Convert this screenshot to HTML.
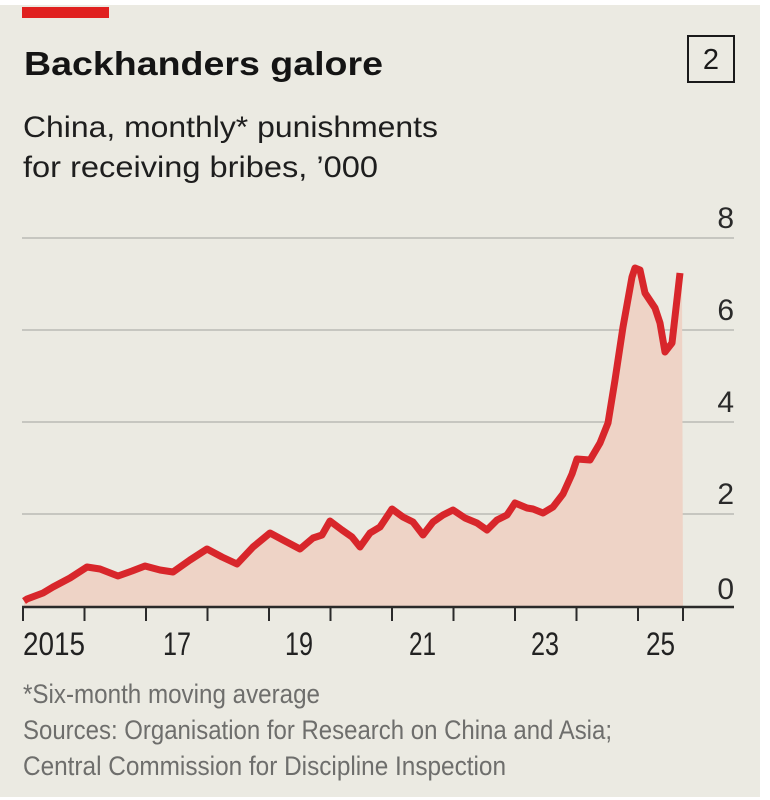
<!DOCTYPE html>
<html>
<head>
<meta charset="utf-8">
<style>
  html,body{margin:0;padding:0;background:#ffffff;}
  body{width:770px;height:800px;overflow:hidden;}
  svg{display:block;}
</style>
</head>
<body>
<svg width="770" height="800" viewBox="0 0 770 800" xmlns="http://www.w3.org/2000/svg">
  <rect x="0" y="0" width="770" height="800" fill="#ffffff"/>
  <rect x="0" y="5" width="760" height="792" fill="#ebeae2"/>
  <!-- red bar -->
  <rect x="22" y="7" width="87" height="11" fill="#e0201f"/>

  <!-- title -->
  <text x="24" y="75" font-family="Liberation Sans, Arial, sans-serif" font-weight="bold" font-size="33" fill="#141414" textLength="359" lengthAdjust="spacingAndGlyphs">Backhanders galore</text>

  <!-- box 2 -->
  <rect x="688" y="36" width="46" height="46" fill="none" stroke="#1a1a1a" stroke-width="2"/>
  <text x="711" y="69" text-anchor="middle" font-family="Liberation Sans, Arial, sans-serif" font-size="29" fill="#1a1a1a">2</text>

  <!-- subtitle -->
  <text x="23" y="137" font-family="Liberation Sans, Arial, sans-serif" font-size="30" fill="#1e1e1e" textLength="415" lengthAdjust="spacingAndGlyphs">China, monthly* punishments</text>
  <text x="23" y="177" font-family="Liberation Sans, Arial, sans-serif" font-size="30" fill="#1e1e1e" textLength="355" lengthAdjust="spacingAndGlyphs">for receiving bribes, ’000</text>

  <!-- gridlines -->
  <g stroke="#c6c6c0" stroke-width="2">
    <line x1="22" y1="238" x2="734" y2="238"/>
    <line x1="22" y1="330" x2="734" y2="330"/>
    <line x1="22" y1="422" x2="734" y2="422"/>
    <line x1="22" y1="514" x2="734" y2="514"/>
  </g>

  <!-- y labels -->
  <g font-family="Liberation Sans, Arial, sans-serif" font-size="30" fill="#2a2a2a" text-anchor="end">
    <text x="734" y="228">8</text>
    <text x="734" y="320">6</text>
    <text x="734" y="412">4</text>
    <text x="734" y="504">2</text>
    <text x="734" y="599">0</text>
  </g>

  <!-- area fill -->
  <path fill="#eed3c6" d="M24,606 L24,601 L27,599 L43,593 L53,587 L70,578 L87,567 L100,569 L118,576 L132,571 L145,566 L160,570 L173,572 L190,560 L207,549 L222,557 L237,564 L253,547 L270,533 L283,540 L300,549 L313,538 L322,535 L330,521 L342,530 L352,537 L360,547 L370,533 L380,527 L392,509 L403,517 L413,522 L423,535 L433,522 L443,515 L453,510 L465,518 L477,523 L487,530 L497,520 L507,515 L515,503 L527,508 L533,509 L543,513 L553,507 L563,494 L572,474 L577,459 L590,460 L600,443 L608,423 L615,380 L623,327 L632,277 L635,268 L640,270 L645,293 L655,308 L660,323 L665,352 L672,343 L682,273 L683,606 Z"/>

  <!-- line -->
  <path fill="none" stroke="#d8262b" stroke-width="7" stroke-linejoin="round" stroke-linecap="butt" d="M24,601 L27,599 L43,593 L53,587 L70,578 L87,567 L100,569 L118,576 L132,571 L145,566 L160,570 L173,572 L190,560 L207,549 L222,557 L237,564 L253,547 L270,533 L283,540 L300,549 L313,538 L322,535 L330,521 L342,530 L352,537 L360,547 L370,533 L380,527 L392,509 L403,517 L413,522 L423,535 L433,522 L443,515 L453,510 L465,518 L477,523 L487,530 L497,520 L507,515 L515,503 L527,508 L533,509 L543,513 L553,507 L563,494 L572,474 L577,459 L590,460 L600,443 L608,423 L615,380 L623,327 L632,277 L635,268 L640,270 L645,293 L655,308 L660,323 L665,352 L672,343 L680,273"/>

  <!-- x axis -->
  <line x1="22" y1="607" x2="734" y2="607" stroke="#2a2a2a" stroke-width="2.5"/>
  <g stroke="#2a2a2a" stroke-width="2">
    <line x1="23" y1="607" x2="23" y2="621"/>
    <line x1="84.5" y1="607" x2="84.5" y2="621"/>
    <line x1="146" y1="607" x2="146" y2="621"/>
    <line x1="207.5" y1="607" x2="207.5" y2="621"/>
    <line x1="269" y1="607" x2="269" y2="621"/>
    <line x1="330.5" y1="607" x2="330.5" y2="621"/>
    <line x1="392" y1="607" x2="392" y2="621"/>
    <line x1="453.5" y1="607" x2="453.5" y2="621"/>
    <line x1="515" y1="607" x2="515" y2="621"/>
    <line x1="576.5" y1="607" x2="576.5" y2="621"/>
    <line x1="638" y1="607" x2="638" y2="621"/>
    <line x1="683" y1="607" x2="683" y2="621"/>
  </g>

  <!-- x labels -->
  <g font-family="Liberation Sans, Arial, sans-serif" font-size="32" fill="#222222">
    <text x="23" y="655" textLength="62" lengthAdjust="spacingAndGlyphs">2015</text>
    <text x="163" y="655" textLength="28" lengthAdjust="spacingAndGlyphs">17</text>
    <text x="285" y="655" textLength="28" lengthAdjust="spacingAndGlyphs">19</text>
    <text x="409" y="655" textLength="27" lengthAdjust="spacingAndGlyphs">21</text>
    <text x="531" y="655" textLength="28" lengthAdjust="spacingAndGlyphs">23</text>
    <text x="646" y="655" textLength="29" lengthAdjust="spacingAndGlyphs">25</text>
  </g>

  <!-- footnotes -->
  <g font-family="Liberation Sans, Arial, sans-serif" font-size="27" fill="#6e6e6c">
    <text x="23" y="703" textLength="297" lengthAdjust="spacingAndGlyphs">*Six-month moving average</text>
    <text x="23" y="739" textLength="589" lengthAdjust="spacingAndGlyphs">Sources: Organisation for Research on China and Asia;</text>
    <text x="23" y="775" textLength="483" lengthAdjust="spacingAndGlyphs">Central Commission for Discipline Inspection</text>
  </g>
</svg>
</body>
</html>
